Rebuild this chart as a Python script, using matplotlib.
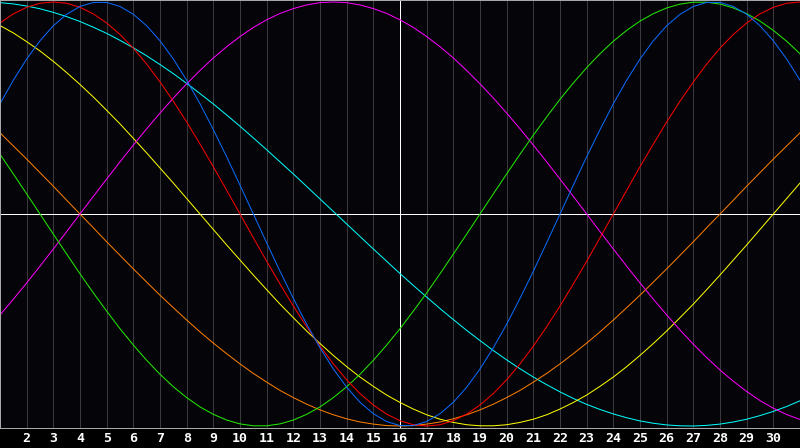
import numpy as np
import matplotlib
matplotlib.use("Agg")
import matplotlib.pyplot as plt

# half-day steps across the month
days = [1 + i / 2 for i in range(61)]

# cycle values every half day (-1 .. 1)
physical = [0.520, 0.631, 0.731, 0.817, 0.888, 0.942, 0.979, 0.998, 0.998, 0.979,
            0.942, 0.888, 0.817, 0.731, 0.631, 0.520, 0.398, 0.270, 0.136, 0.000,
            -0.136, -0.270, -0.398, -0.520, -0.631, -0.731, -0.817, -0.888, -0.942, -0.979,
            -0.998, -0.998, -0.979, -0.942, -0.888, -0.817, -0.731, -0.631, -0.520, -0.398,
            -0.270, -0.136, 0.000, 0.136, 0.270, 0.398, 0.520, 0.631, 0.731, 0.817,
            0.888, 0.942, 0.979, 0.998, 0.998, 0.979, 0.942, 0.888, 0.817, 0.731, 0.631]
emotional = [0.901, 0.944, 0.975, 0.994, 1.000, 0.994, 0.975, 0.944, 0.901, 0.847,
             0.782, 0.707, 0.623, 0.532, 0.434, 0.330, 0.223, 0.112, 0.000, -0.112,
             -0.223, -0.330, -0.434, -0.532, -0.623, -0.707, -0.782, -0.847, -0.901, -0.944,
             -0.975, -0.994, -1.000, -0.994, -0.975, -0.944, -0.901, -0.847, -0.782, -0.707,
             -0.623, -0.532, -0.434, -0.330, -0.223, -0.112, 0.000, 0.112, 0.223, 0.330,
             0.434, 0.532, 0.623, 0.707, 0.782, 0.847, 0.901, 0.944, 0.975, 0.994, 1.000]
intellectual = [0.282, 0.189, 0.095, 0.000, -0.095, -0.189, -0.282, -0.372, -0.458, -0.541,
                -0.618, -0.690, -0.756, -0.815, -0.866, -0.910, -0.945, -0.972, -0.990, -0.999,
                -0.999, -0.990, -0.972, -0.945, -0.910, -0.866, -0.815, -0.756, -0.690, -0.618,
                -0.541, -0.458, -0.372, -0.282, -0.189, -0.095, 0.000, 0.095, 0.189, 0.282,
                0.372, 0.458, 0.541, 0.618, 0.690, 0.756, 0.815, 0.866, 0.910, 0.945,
                0.972, 0.990, 0.999, 0.999, 0.990, 0.972, 0.945, 0.910, 0.866, 0.815, 0.756]
intuitive = [-0.476, -0.402, -0.325, -0.246, -0.165, -0.083, 0.000, 0.083, 0.165, 0.246,
             0.325, 0.402, 0.476, 0.547, 0.614, 0.677, 0.736, 0.789, 0.837, 0.880,
             0.916, 0.946, 0.969, 0.986, 0.997, 1.000, 0.997, 0.986, 0.969, 0.946,
             0.916, 0.880, 0.837, 0.789, 0.736, 0.677, 0.614, 0.547, 0.476, 0.402,
             0.325, 0.246, 0.165, 0.083, 0.000, -0.083, -0.165, -0.246, -0.325, -0.402,
             -0.476, -0.547, -0.614, -0.677, -0.736, -0.789, -0.837, -0.880, -0.916, -0.946, -0.969]
aesthetic = [0.889, 0.854, 0.813, 0.769, 0.720, 0.667, 0.611, 0.552, 0.489, 0.425,
             0.357, 0.288, 0.217, 0.146, 0.073, 0.000, -0.073, -0.146, -0.217, -0.288,
             -0.357, -0.425, -0.489, -0.552, -0.611, -0.667, -0.720, -0.769, -0.813, -0.854,
             -0.889, -0.920, -0.947, -0.968, -0.983, -0.994, -0.999, -0.999, -0.994, -0.983,
             -0.968, -0.947, -0.920, -0.889, -0.854, -0.813, -0.769, -0.720, -0.667, -0.611,
             -0.552, -0.489, -0.425, -0.357, -0.288, -0.217, -0.146, -0.073, 0.000, 0.073, 0.146]
awareness = [0.383, 0.321, 0.259, 0.195, 0.131, 0.065, 0.000, -0.065, -0.131, -0.195,
             -0.259, -0.321, -0.383, -0.442, -0.500, -0.556, -0.609, -0.659, -0.707, -0.752,
             -0.793, -0.832, -0.866, -0.897, -0.924, -0.947, -0.966, -0.981, -0.991, -0.998,
             -1.000, -0.998, -0.991, -0.981, -0.966, -0.947, -0.924, -0.897, -0.866, -0.832,
             -0.793, -0.752, -0.707, -0.659, -0.609, -0.556, -0.500, -0.442, -0.383, -0.321,
             -0.259, -0.195, -0.131, -0.065, 0.000, 0.065, 0.131, 0.195, 0.259, 0.321, 0.383]
spiritual = [0.997, 0.991, 0.981, 0.968, 0.951, 0.931, 0.908, 0.881, 0.852, 0.819,
             0.784, 0.746, 0.705, 0.662, 0.616, 0.568, 0.519, 0.467, 0.414, 0.359,
             0.303, 0.246, 0.189, 0.130, 0.071, 0.012, -0.047, -0.106, -0.165, -0.223,
             -0.281, -0.337, -0.392, -0.446, -0.498, -0.549, -0.597, -0.644, -0.688, -0.730,
             -0.769, -0.805, -0.839, -0.870, -0.898, -0.922, -0.943, -0.961, -0.976, -0.987,
             -0.995, -0.999, -1.000, -0.997, -0.991, -0.981, -0.968, -0.951, -0.931, -0.908, -0.881]

series = [
    (spiritual, "#00ffff"),
    (awareness, "#ff8000"),
    (aesthetic, "#ffff00"),
    (intuitive, "#ff00ff"),
    (intellectual, "#22ee00"),
    (emotional, "#ff0000"),
    (physical, "#0a6cff"),
]

tick_days = list(range(2, 31))
tick_labels = [str(d) for d in tick_days]

px = 72 / 100  # one pixel in points

fig = plt.figure(figsize=(8, 4.48), dpi=100, facecolor="black")
ax = fig.add_axes([0, 20 / 448, 1, 428 / 448])
ax.set_facecolor("#050409")

# day grid, today in white
for d in tick_days:
    col = "white" if d == 16 else "#3a3a3e"
    ax.axvline(d, color=col, linewidth=px, zorder=1, antialiased=False)
ax.axhline(0, color="white", linewidth=px, zorder=1, antialiased=False)

for vals, col in series:
    ax.plot(days, vals, color=col, linewidth=px, zorder=2, antialiased=True,
            solid_joinstyle="round")

ax.set_xlim(1, 31)
ax.set_ylim(-1.0094, 1.0094)
ax.set_yticks([])
ax.set_xticks(tick_days)
ax.set_xticklabels(tick_labels, color="white", fontsize=9.5, fontweight="bold",
                   family="DejaVu Sans Mono")
ax.tick_params(axis="x", length=0, pad=3)
for s in ax.spines.values():
    s.set_color("#a8a8a8")
    s.set_linewidth(px)

plt.savefig("out.png", dpi=100, facecolor="black")
